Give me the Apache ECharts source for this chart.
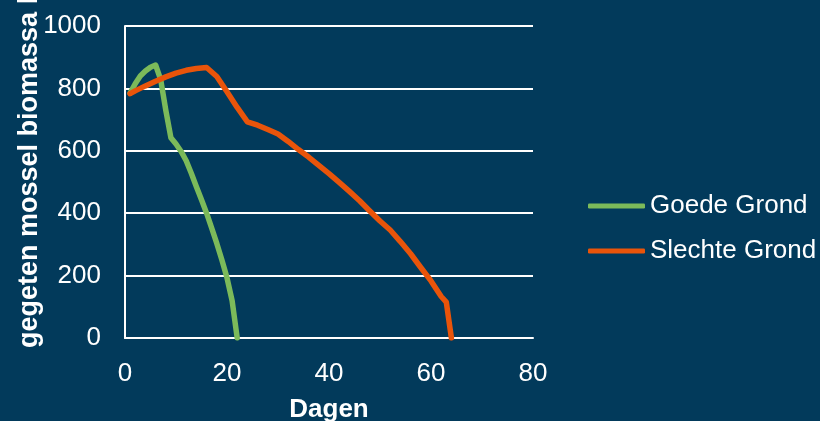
<!DOCTYPE html>
<html>
<head>
<meta charset="utf-8">
<script src="https://cdn.jsdelivr.net/npm/echarts@6/dist/echarts.min.js"></script>
<style>
html,body{margin:0;padding:0;background:#023a5b;}
#chart{width:820px;height:421px;}
</style>
</head>
<body>
<div id="chart"></div>
<script>
// Data
var seriesNames = ['Goede Grond', 'Slechte Grond'];
var goedeDagen = [1, 2, 3, 4, 5, 6, 7, 8, 9, 10, 11, 12, 13, 14, 15, 16, 17, 18, 19, 20, 21, 22];
var goedeBiomassa = [785, 815, 840, 856, 868, 875, 828, 730, 642, 622, 598, 568, 528, 485, 443, 400, 352, 303, 250, 193, 120, 0];
var slechteDagen = [1, 2, 4, 6, 8, 10, 12, 14, 16, 18, 20, 22, 24, 26, 28, 30, 32, 34, 36, 38, 40, 42, 44, 46, 48, 50, 52, 54, 56, 58, 60, 62, 63, 64];
var slechteBiomassa = [783, 792, 808, 823, 837, 849, 858, 864, 867, 838, 789, 739, 693, 682, 668, 654, 630, 604, 580, 553, 527, 499, 470, 440, 407, 375, 346, 309, 270, 226, 183, 133, 115, 0];
var xTicks = [0, 20, 40, 60, 80];
var yTicks = [0, 200, 400, 600, 800, 1000];
var xTitle = 'Dagen';
var yTitle = 'gegeten mossel biomassa kg';

function pairs(xs, ys) { return xs.map(function (x, i) { return [x, ys[i]]; }); }
function plain(v) { return String(v); }

var chart = echarts.init(document.getElementById('chart'), null, {renderer: 'canvas'});
var font = '"Liberation Sans", Arial, sans-serif';
chart.setOption({
  backgroundColor: '#023a5b',
  animation: false,
  textStyle: {fontFamily: font},
  grid: {left: 125, right: 287, top: 26, bottom: 83, containLabel: false, outerBoundsMode: 'none'},
  xAxis: {
    type: 'value',
    min: xTicks[0], max: xTicks[xTicks.length - 1], interval: xTicks[1] - xTicks[0],
    name: xTitle, nameLocation: 'middle', nameGap: 59,
    nameTextStyle: {color: '#ffffff', fontSize: 26, fontWeight: 'bold', fontFamily: font},
    axisLine: {show: true, lineStyle: {color: '#ffffff', width: 2}},
    axisTick: {show: false},
    axisLabel: {color: '#ffffff', fontSize: 26, margin: 23, fontFamily: font, formatter: plain},
    splitLine: {show: false}
  },
  yAxis: {
    type: 'value',
    min: yTicks[0], max: yTicks[yTicks.length - 1], interval: yTicks[1] - yTicks[0],
    axisLine: {show: true, lineStyle: {color: '#ffffff', width: 2}},
    axisTick: {show: false},
    axisLabel: {color: '#ffffff', fontSize: 26, margin: 24, fontFamily: font, formatter: plain},
    splitLine: {show: true, lineStyle: {color: '#ffffff', width: 2}}
  },
  legend: {
    orient: 'vertical', left: 583, top: 188, itemGap: 19,
    itemWidth: 57, itemHeight: 5, icon: 'roundRect',
    textStyle: {color: '#ffffff', fontSize: 26, fontFamily: font},
    data: seriesNames
  },
  graphic: [{
    type: 'text', x: 30, y: 348, rotation: Math.PI / 2,
    style: {text: yTitle, fill: '#ffffff', font: 'bold 27px ' + font, textAlign: 'left', textVerticalAlign: 'middle'}
  }],
  series: [{
    name: seriesNames[0], type: 'line', data: pairs(goedeDagen, goedeBiomassa),
    symbol: 'none', showSymbol: false, color: '#7cba5a',
    lineStyle: {width: 5.5, color: '#7cba5a', cap: 'round', join: 'round'}
  }, {
    name: seriesNames[1], type: 'line', data: pairs(slechteDagen, slechteBiomassa),
    symbol: 'none', showSymbol: false, color: '#e9540a',
    lineStyle: {width: 5.5, color: '#e9540a', cap: 'round', join: 'round'}
  }]
});
</script>
</body>
</html>
